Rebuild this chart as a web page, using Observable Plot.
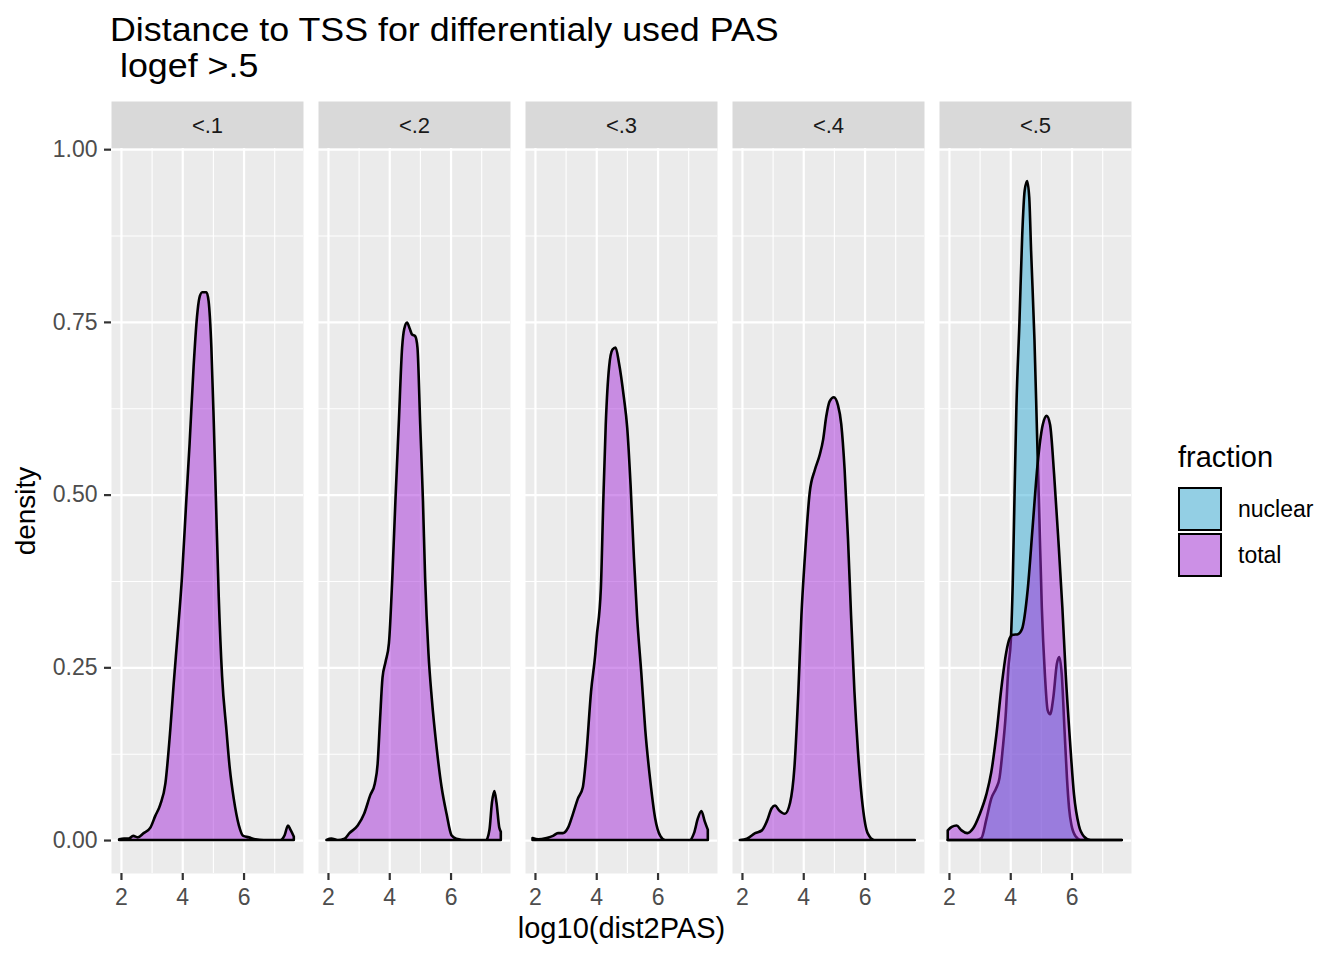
<!DOCTYPE html>
<html>
<head>
<meta charset="utf-8">
<script src="https://cdn.jsdelivr.net/npm/d3@7"></script>
<script src="https://cdn.jsdelivr.net/npm/@observablehq/plot@0.6"></script>
<style>
  body { margin: 0; background: #ffffff; font-family: "Liberation Sans", Arial, Helvetica, sans-serif; }
  #wrap { position: relative; width: 1344px; height: 960px; overflow: hidden; background: #fff; }
  #title { height: 76px; padding-top: 12px; padding-left: 110px; }
  #title span { display: inline-block; font-size: 33px; line-height: 36px; white-space: pre; color: #000; transform: scaleX(1.085); transform-origin: 0 0; }
  #chart svg { display: block; }
  #xlabel { height: 46px; padding-top: 4px; margin-left: 110px; width: 1023px; text-align: center; font-size: 29px; line-height: 29px; color: #000; }
  #legend { position: absolute; left: 1178px; top: 440px; width: 166px; height: 150px; }
  #legend .lt { position: absolute; left: 0; top: 0; font-size: 29px; line-height: 34px; color: #000; }
  #legend .sw { position: absolute; left: 0; width: 44px; height: 44px; box-sizing: border-box; border: 2.5px solid #000; background: #F2F2F2; }
  #legend .sw div { width: 100%; height: 100%; }
  #legend .lab { position: absolute; left: 60px; font-size: 23px; line-height: 44px; color: #000; }
  g[aria-label="y-axis label"] text { fill: #000; font-size: 28px; }
</style>
</head>
<body>
<div id="wrap">
  <div id="title"><span>Distance to TSS for differentialy used PAS
 logef &gt;.5</span></div>
  <div id="chart"></div>
  <div id="xlabel">log10(dist2PAS)</div>
  <div id="legend"></div>
</div>
<script>
// ---- data ----
const facets = ["<.1", "<.2", "<.3", "<.4", "<.5"];
const fractions = ["nuclear", "total"];
const fractionColors = ["#33ABD5", "#A52DD9"];

const xTicks = [2, 4, 6];
const xMinorTicks = [3, 5, 7];
const yTicks = [0, 0.25, 0.5, 0.75, 1];
const yMinorTicks = [0.125, 0.375, 0.625, 0.875];

// density curves, [log10(dist2PAS), density]
const total_lt1 = [[1.94,0.001],[2.1,0.002],[2.25,0.002],[2.4,0.006],[2.55,0.004],[2.74,0.01],[2.96,0.018],[3.12,0.035],[3.28,0.051],[3.45,0.082],[3.61,0.16],[3.72,0.226],[3.85,0.298],[3.99,0.38],[4.13,0.49],[4.24,0.574],[4.37,0.685],[4.48,0.757],[4.56,0.785],[4.65,0.793],[4.79,0.793],[4.86,0.78],[4.95,0.713],[5.03,0.602],[5.1,0.491],[5.19,0.353],[5.3,0.237],[5.44,0.16],[5.55,0.104],[5.68,0.06],[5.85,0.021],[5.99,0.006],[6.17,0.004],[6.39,0.001],[6.66,0],[7.2,0],[7.34,0.007],[7.45,0.021],[7.53,0.015],[7.64,0.005]];
const total_lt2 = [[1.95,0],[2.11,0.002],[2.32,0],[2.54,0.002],[2.7,0.01],[2.97,0.021],[3.18,0.038],[3.38,0.065],[3.53,0.082],[3.62,0.11],[3.7,0.175],[3.78,0.235],[3.88,0.258],[3.99,0.285],[4.1,0.38],[4.2,0.49],[4.31,0.602],[4.42,0.713],[4.49,0.74],[4.58,0.749],[4.67,0.74],[4.74,0.732],[4.85,0.729],[4.92,0.713],[5.01,0.602],[5.1,0.491],[5.17,0.38],[5.28,0.27],[5.39,0.204],[5.55,0.132],[5.71,0.076],[5.87,0.038],[6.03,0.007],[6.19,0.002],[6.52,0],[7.16,0],[7.27,0.015],[7.35,0.054],[7.43,0.071],[7.5,0.054],[7.59,0.018],[7.64,0.012]];
const total_lt3 = [[1.92,0.003],[2.11,0.001],[2.38,0.003],[2.59,0.006],[2.75,0.01],[2.91,0.01],[3.08,0.018],[3.24,0.038],[3.4,0.06],[3.56,0.076],[3.67,0.12],[3.83,0.215],[3.97,0.27],[4.01,0.292],[4.15,0.364],[4.23,0.491],[4.31,0.602],[4.42,0.685],[4.53,0.71],[4.63,0.713],[4.74,0.691],[4.9,0.641],[5.01,0.597],[5.12,0.514],[5.23,0.408],[5.33,0.325],[5.47,0.242],[5.6,0.159],[5.76,0.087],[5.92,0.032],[6.09,0.006],[6.25,0],[7.05,0],[7.19,0.01],[7.32,0.032],[7.43,0.042],[7.54,0.027],[7.64,0.015]];
const total_lt4 = [[1.93,0],[2.16,0.002],[2.43,0.01],[2.65,0.014],[2.81,0.027],[2.97,0.046],[3.08,0.05],[3.21,0.043],[3.4,0.038],[3.57,0.054],[3.71,0.104],[3.84,0.215],[3.94,0.325],[4.05,0.408],[4.21,0.503],[4.38,0.536],[4.54,0.558],[4.65,0.58],[4.75,0.613],[4.86,0.635],[5.0,0.641],[5.13,0.63],[5.24,0.602],[5.35,0.536],[5.46,0.436],[5.56,0.325],[5.67,0.215],[5.78,0.132],[5.94,0.049],[6.1,0.01],[6.32,0],[7.64,0]];
const total_lt5 = [[1.96,0.014],[2.09,0.019],[2.25,0.021],[2.41,0.014],[2.6,0.01],[2.79,0.017],[3.0,0.037],[3.22,0.066],[3.38,0.098],[3.54,0.15],[3.71,0.22],[3.87,0.272],[3.98,0.292],[4.08,0.297],[4.25,0.298],[4.38,0.305],[4.57,0.363],[4.73,0.453],[4.89,0.543],[5.06,0.601],[5.19,0.614],[5.3,0.601],[5.43,0.53],[5.57,0.434],[5.7,0.337],[5.81,0.24],[5.95,0.143],[6.08,0.066],[6.24,0.021],[6.41,0.005],[6.62,0],[7.64,0]];
const nuclear_lt5 = [[1.96,0],[2.9,0],[3.06,0.003],[3.22,0.03],[3.38,0.06],[3.54,0.075],[3.65,0.09],[3.75,0.13],[3.85,0.18],[3.94,0.25],[4.02,0.29],[4.08,0.37],[4.14,0.5],[4.2,0.625],[4.3,0.75],[4.39,0.875],[4.47,0.94],[4.55,0.954],[4.62,0.93],[4.68,0.853],[4.79,0.724],[4.87,0.595],[4.95,0.466],[5.03,0.337],[5.13,0.24],[5.22,0.188],[5.3,0.182],[5.41,0.208],[5.52,0.255],[5.6,0.265],[5.68,0.24],[5.77,0.16],[5.85,0.09],[5.92,0.046],[6.0,0.021],[6.14,0.005],[6.3,0],[7.64,0]];

// ---- tables for the library ----
const totalByFacet = [total_lt1, total_lt2, total_lt3, total_lt4, total_lt5];
const totalRows = facets.flatMap((f, i) => totalByFacet[i].map(([x, y]) => ({facet: f, fraction: "total", x, y})));
const nuclearRows = nuclear_lt5.map(([x, y]) => ({facet: "<.5", fraction: "nuclear", x, y}));

const font = '"Liberation Sans", Arial, Helvetica, sans-serif';
const areaOpts = {fx: "facet", x: "x", y: "y", fill: "fraction", fillOpacity: 0.5, stroke: "#000", strokeWidth: 2.6, strokeLinejoin: "round", curve: "monotone-x"};

const chart = Plot.plot({
  width: 1344,
  height: 822,
  marginTop: 60,
  marginBottom: 37,
  marginLeft: 110,
  marginRight: 211,
  style: {fontFamily: font, fontSize: "23px", background: "transparent", overflow: "visible"},
  fx: {domain: facets, paddingInner: 0.072, paddingOuter: 0, axis: null},
  x: {domain: [1.675, 7.94]},
  y: {domain: [-0.0477, 1.0017]},
  color: {domain: fractions, range: fractionColors},
  marks: [
    Plot.frame({fill: "#EBEBEB", stroke: "none"}),
    Plot.frame({fill: "#D9D9D9", stroke: "none", insetTop: -47, insetBottom: 725}),
    Plot.gridX(xMinorTicks, {stroke: "#fff", strokeOpacity: 1, strokeWidth: 1.1}),
    Plot.gridY(yMinorTicks, {stroke: "#fff", strokeOpacity: 1, strokeWidth: 1.1}),
    Plot.gridX(xTicks, {stroke: "#fff", strokeOpacity: 1, strokeWidth: 2.2}),
    Plot.gridY(yTicks, {stroke: "#fff", strokeOpacity: 1, strokeWidth: 2.2}),
    Plot.areaY(nuclearRows, areaOpts),
    Plot.areaY(totalRows, areaOpts),
    Plot.axisX({ticks: xTicks, tickFormat: d3.format("d"), tickSize: 7, tickPadding: 8, stroke: "#333", strokeWidth: 2.2, fill: "#4D4D4D", fontSize: 23, label: null}),
    Plot.axisY({ticks: yTicks, tickFormat: d3.format(".2f"), tickSize: 7, tickPadding: 7, stroke: "#333", strokeWidth: 2.2, fill: "#4D4D4D", fontSize: 23, label: "density", labelAnchor: "center", labelOffset: 96, labelArrow: "none"}),
    Plot.text(facets, {fx: d => d, text: d => d, frameAnchor: "top", dy: -31, fontSize: 22, fill: "#1A1A1A"})
  ]
});
document.getElementById("chart").append(chart);

// legend
const legend = d3.select("#legend");
legend.append("div").attr("class", "lt").text("fraction");
fractions.forEach((f, i) => {
  const top = 47 + i * 46;
  legend.append("div").attr("class", "sw").style("top", top + "px")
    .append("div").style("background", fractionColors[i]).style("opacity", 0.5);
  legend.append("div").attr("class", "lab").style("top", top + "px").text(f);
});
</script>
</body>
</html>
